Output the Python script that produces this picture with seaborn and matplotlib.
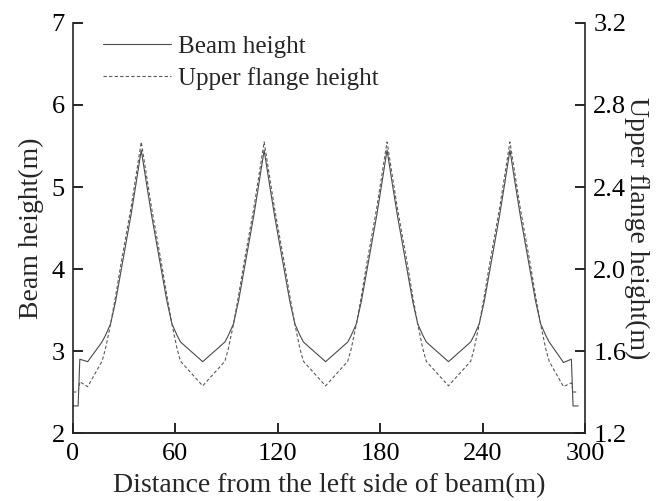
import matplotlib
matplotlib.use("Agg")
import matplotlib.pyplot as plt
import seaborn as sns
import pandas as pd
from matplotlib.lines import Line2D

# ---- data ----
distance = [0, 3, 4, 8.6, 17, 19, 22, 25, 28, 31, 34, 37,
            40, 43, 46, 49, 52, 55, 58, 61, 63, 76, 89, 91, 94, 97, 100, 103, 106, 109,
            112, 115, 118, 121, 124, 127, 130, 133, 135, 148, 161, 163, 166, 169, 172, 175, 178, 181,
            184, 187, 190, 193, 196, 199, 202, 205, 207, 220, 233, 235, 238, 241, 244, 247, 250, 253,
            256, 259, 262, 265, 268, 271, 274, 277, 279, 287.4, 292, 293, 296]

beam_height = [2.33, 2.33, 2.90, 2.87, 3.11, 3.19, 3.33, 3.61, 3.96, 4.31, 4.66, 5.05,
               5.45, 5.05, 4.66, 4.31, 3.96, 3.61, 3.33, 3.19, 3.11, 2.87, 3.11, 3.19, 3.33, 3.61, 3.96, 4.31, 4.66, 5.05,
               5.45, 5.05, 4.66, 4.31, 3.96, 3.61, 3.33, 3.19, 3.11, 2.87, 3.11, 3.19, 3.33, 3.61, 3.96, 4.31, 4.66, 5.05,
               5.45, 5.05, 4.66, 4.31, 3.96, 3.61, 3.33, 3.19, 3.11, 2.87, 3.11, 3.19, 3.33, 3.61, 3.96, 4.31, 4.66, 5.05,
               5.45, 5.05, 4.66, 4.31, 3.96, 3.61, 3.33, 3.19, 3.11, 2.86, 2.90, 2.33, 2.33]

flange_height = [1.40, 1.40, 1.45, 1.426, 1.55, 1.61, 1.73, 1.87, 2.02, 2.16, 2.30, 2.46,
                 2.62, 2.46, 2.30, 2.16, 2.02, 1.87, 1.73, 1.61, 1.55, 1.43, 1.55, 1.61, 1.73, 1.87, 2.02, 2.16, 2.30, 2.46,
                 2.62, 2.46, 2.30, 2.16, 2.02, 1.87, 1.73, 1.61, 1.55, 1.43, 1.55, 1.61, 1.73, 1.87, 2.02, 2.16, 2.30, 2.46,
                 2.62, 2.46, 2.30, 2.16, 2.02, 1.87, 1.73, 1.61, 1.55, 1.43, 1.55, 1.61, 1.73, 1.87, 2.02, 2.16, 2.30, 2.46,
                 2.62, 2.46, 2.30, 2.16, 2.02, 1.87, 1.73, 1.61, 1.55, 1.426, 1.445, 1.40, 1.40]

x_ticks = [0, 60, 120, 180, 240, 300]
left_ticks = [2, 3, 4, 5, 6, 7]
right_ticks = [1.2, 1.6, 2.0, 2.4, 2.8, 3.2]

df = pd.DataFrame({"x": distance, "beam": beam_height, "flange": flange_height})

sns.set_style("ticks")
plt.rcParams["font.family"] = ["Liberation Serif", "DejaVu Serif"]
plt.rcParams["axes.linewidth"] = 1.2

fig = plt.figure(figsize=(6.6, 5.01), dpi=100)
ax = fig.add_axes([0.1106, 0.1357, 0.7758, 0.8184])
ax2 = ax.twinx()

solid_color = "#4a4a4a"
dash_color = "#5a5a5a"

sns.lineplot(data=df, x="x", y="beam", ax=ax, color=solid_color, linewidth=0.8,
             sort=False, estimator=None)
sns.lineplot(data=df, x="x", y="flange", ax=ax2, color=dash_color, linewidth=0.8,
             linestyle=(0, (3, 2)), sort=False, estimator=None)

ax.set_xlim(0, 300)
ax.set_ylim(2, 7)
ax2.set_ylim(1.2, 3.2)
ax.set_xticks(x_ticks)
ax.set_yticks(left_ticks)
ax2.set_yticks(right_ticks)
ax2.set_yticklabels([f"{v:.1f}" for v in right_ticks])

for a in (ax, ax2):
    a.spines["top"].set_visible(False)
    a.tick_params(direction="in", length=7, width=1.2, labelsize=19, colors="black")
ax.tick_params(axis="x", pad=7)
ax.tick_params(axis="y", pad=6)
ax2.tick_params(axis="y", pad=6)
ax2.spines["left"].set_visible(False)
ax.spines["right"].set_visible(False)
ax2.spines["right"].set_linewidth(1.2)

ax.set_xlabel("Distance from the left side of beam(m)", fontsize=20, labelpad=6)
ax.set_ylabel("Beam height(m)", fontsize=20, labelpad=5)
ax2.set_ylabel("Upper flange height(m)", fontsize=20, rotation=270, labelpad=16)

handles = [Line2D([], [], color=solid_color, linewidth=0.8),
           Line2D([], [], color=dash_color, linewidth=0.8, linestyle=(0, (3, 2)))]
ax.legend(handles, ["Beam height", "Upper flange height"], loc="upper left",
          frameon=False, fontsize=18, handlelength=2.7, handletextpad=0.3,
          bbox_to_anchor=(0.035, 1.0), borderaxespad=0.1, labelspacing=0.35)

fig.savefig("out.png", dpi=100)
